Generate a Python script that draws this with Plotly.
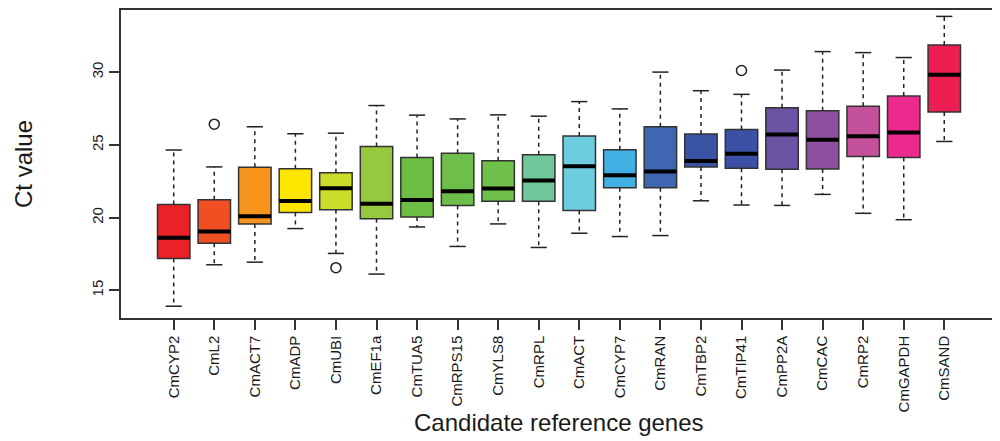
import plotly.graph_objects as go

# --- data (Ct values) ---
genes = ["CmCYP2", "CmL2", "CmACT7", "CmADP", "CmUBI", "CmEF1a", "CmTUA5",
         "CmRPS15", "CmYLS8", "CmRPL", "CmACT", "CmCYP7", "CmRAN", "CmTBP2",
         "CmTIP41", "CmPP2A", "CmCAC", "CmRP2", "CmGAPDH", "CmSAND"]
lower_whisker = [13.91, 16.76, 16.94, 19.25, 17.54, 16.12, 19.36, 18.02, 19.57, 17.95,
                 18.93, 18.70, 18.77, 21.16, 20.87, 20.84, 21.60, 20.30, 19.86, 25.24]
q1 = [17.20, 18.24, 19.57, 20.36, 20.55, 19.93, 20.05, 20.84, 21.12, 21.12,
      20.50, 22.05, 22.05, 23.49, 23.40, 23.33, 23.35, 24.20, 24.13, 27.27]
median = [18.61, 19.04, 20.09, 21.14, 22.03, 20.96, 21.21, 21.81, 22.01, 22.55,
          23.53, 22.92, 23.17, 23.90, 24.40, 25.72, 25.36, 25.59, 25.86, 29.83]
q3 = [20.91, 21.23, 23.47, 23.37, 23.08, 24.90, 24.13, 24.43, 23.92, 24.33,
      25.61, 24.67, 26.25, 25.75, 26.06, 27.55, 27.36, 27.66, 28.37, 31.88]
upper_whisker = [24.65, 23.49, 26.25, 25.77, 25.81, 27.71, 27.05, 26.79, 27.07, 26.98,
                 27.98, 27.48, 30.01, 28.73, 28.48, 30.15, 31.42, 31.35, 31.01, 33.84]
outlier_genes = ["CmL2", "CmUBI", "CmTIP41"]
outlier_values = [26.43, 16.56, 30.12]

colors = ["#EC2027", "#F04E23", "#F7941D", "#FFE600", "#CCDC2A", "#96C93D", "#6CBE45",
          "#6DBE4B", "#70C04C", "#6FC79A", "#6DCCDD", "#42B0E2", "#3F66B0", "#3A53A4",
          "#3C50A6", "#6953A2", "#904F9E", "#C5509B", "#EC2A8E", "#EC1E52"]

FONT = "Liberation Sans, Arial, sans-serif"
pos = list(range(1, len(genes) + 1))
half_box = 0.4
half_staple = 0.2

# the page body has an 8px default margin, so the figure is sized to fit inside
FIG_W, FIG_H = 992, 433
M_L, M_R, M_T, M_B = 113, 3, 0, 123
plot_w = FIG_W - M_L - M_R
plot_h = FIG_H - M_T - M_B

fig = go.Figure()

# boxes (whiskers drawn separately so they can be dashed)
for p, g, a, m, b, c in zip(pos, genes, q1, median, q3, colors):
    fig.add_trace(go.Box(
        x=[p], q1=[a], median=[m], q3=[b], lowerfence=[a], upperfence=[b],
        width=2 * half_box, fillcolor=c, line=dict(color="#333333", width=1.5),
        whiskerwidth=0, name=g, hoverinfo="skip"))

# dashed whiskers
wx, wy = [], []
for p, lo, a, b, hi in zip(pos, lower_whisker, q1, q3, upper_whisker):
    wx += [p, p, None, p, p, None]
    wy += [b, hi, None, a, lo, None]
fig.add_trace(go.Scatter(x=wx, y=wy, mode="lines",
                         line=dict(color="#222222", width=1.5, dash="4px,4px"),
                         hoverinfo="skip"))

# staples
sx, sy = [], []
for p, lo, hi in zip(pos, lower_whisker, upper_whisker):
    sx += [p - half_staple, p + half_staple, None, p - half_staple, p + half_staple, None]
    sy += [hi, hi, None, lo, lo, None]
fig.add_trace(go.Scatter(x=sx, y=sy, mode="lines",
                         line=dict(color="#222222", width=1.5), hoverinfo="skip"))

# thick medians
mx, my = [], []
for p, m in zip(pos, median):
    mx += [p - half_box, p + half_box, None]
    my += [m, m, None]
fig.add_trace(go.Scatter(x=mx, y=my, mode="lines",
                         line=dict(color="black", width=4), hoverinfo="skip"))

# outliers
fig.add_trace(go.Scatter(
    x=[genes.index(g) + 1 for g in outlier_genes], y=outlier_values, mode="markers",
    marker=dict(symbol="circle-open", size=10, color="#222222", line=dict(width=1.5)),
    hoverinfo="skip"))

fig.update_layout(
    width=FIG_W, height=FIG_H,
    margin=dict(l=M_L, r=M_R, t=M_T, b=M_B, pad=0),
    plot_bgcolor="white", paper_bgcolor="white",
    showlegend=False,
    font=dict(family=FONT, size=15, color="#1a1a1a"),
)
fig.update_xaxes(
    range=[-0.3, len(genes) + 1.3], tickmode="array", tickvals=pos, ticktext=genes,
    tickangle=-90, ticks="outside", ticklen=10, tickwidth=1.5, tickcolor="#333333",
    showline=True, mirror=True, linecolor="#333333", linewidth=1.5,
    showgrid=False, zeroline=False, tickfont=dict(size=15))
fig.update_yaxes(
    range=[13.1, 34.28], tickvals=[15, 20, 25, 30], tickangle=-90,
    ticks="outside", ticklen=10, tickwidth=1.5, tickcolor="#333333",
    showline=True, mirror=True, linecolor="#333333", linewidth=1.5,
    showgrid=False, zeroline=False, tickfont=dict(size=15))

fig.add_annotation(text="Candidate reference genes", xref="paper", yref="paper",
                   x=0.5, y=-(415 - plot_h) / plot_h, yanchor="middle", showarrow=False,
                   font=dict(size=24, family=FONT))
fig.add_annotation(text="Ct value", xref="paper", yref="paper",
                   x=(15 - M_L) / plot_w, y=0.5, xanchor="center", yanchor="middle",
                   textangle=-90, showarrow=False, font=dict(size=24, family=FONT))

fig.write_html("out.html")
